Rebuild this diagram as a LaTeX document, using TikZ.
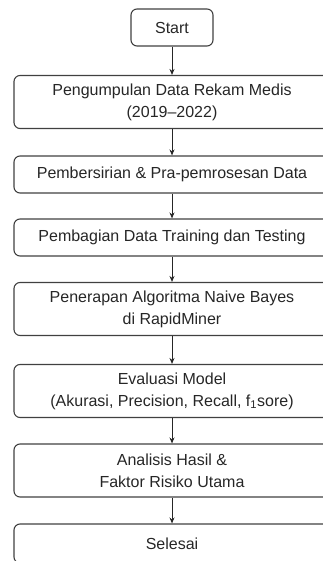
\documentclass[tikz,border=0pt]{standalone}
\usepackage{fontspec}
\setmainfont{Liberation Sans}
\usetikzlibrary{arrows.meta}
\begin{document}
\begin{tikzpicture}[x=1pt,y=-1pt,
  every node/.style={font=\fontsize{16}{22}\selectfont, text=black!85},
  box/.style={draw=black!75, line width=1.1pt, rounded corners=6pt,
    align=center, minimum width=316pt, inner sep=0pt},
  onebox/.style={box, minimum height=37pt},
  twobox/.style={box, minimum height=53pt},
  flow/.style={draw=black!85, line width=1pt, -{Stealth[length=6pt,width=5pt]}}
]
\useasboundingbox (0,0) rectangle (323,561);
\clip (0,0) rectangle (323,561);
\node[draw=black!75, line width=1.1pt, rounded corners=6pt, minimum width=82pt,
      minimum height=37pt, inner sep=0pt] (start) at (172,27.5) {Start};
\node[twobox] (s1) at (172,102) {Pengumpulan Data Rekam Medis\\(2019--2022)};
\node[onebox] (s2) at (172,174.5) {Pembersirian \& Pra-pemrosesan Data};
\node[onebox] (s3) at (172,237.5) {Pembagian Data Training dan Testing};
\node[twobox] (s4) at (172,309) {Penerapan Algoritma Naive Bayes\\di RapidMiner};
\node[twobox] (s5) at (172,391) {Evaluasi Model\\(Akurasi, Precision, Recall, f\textsubscript{1}sore)};
\node[twobox] (s6) at (172,470.5) {Analisis Hasil \&\\Faktor Risiko Utama};
\node[onebox, minimum height=39pt] (s7) at (172,543.5) {Selesai};
\draw[flow] (start) -- (s1);
\draw[flow] (s1) -- (s2);
\draw[flow] (s2) -- (s3);
\draw[flow] (s3) -- (s4);
\draw[flow] (s4) -- (s5);
\draw[flow] (s5) -- (s6);
\draw[flow] (s6) -- (s7);
\end{tikzpicture}
\end{document}
